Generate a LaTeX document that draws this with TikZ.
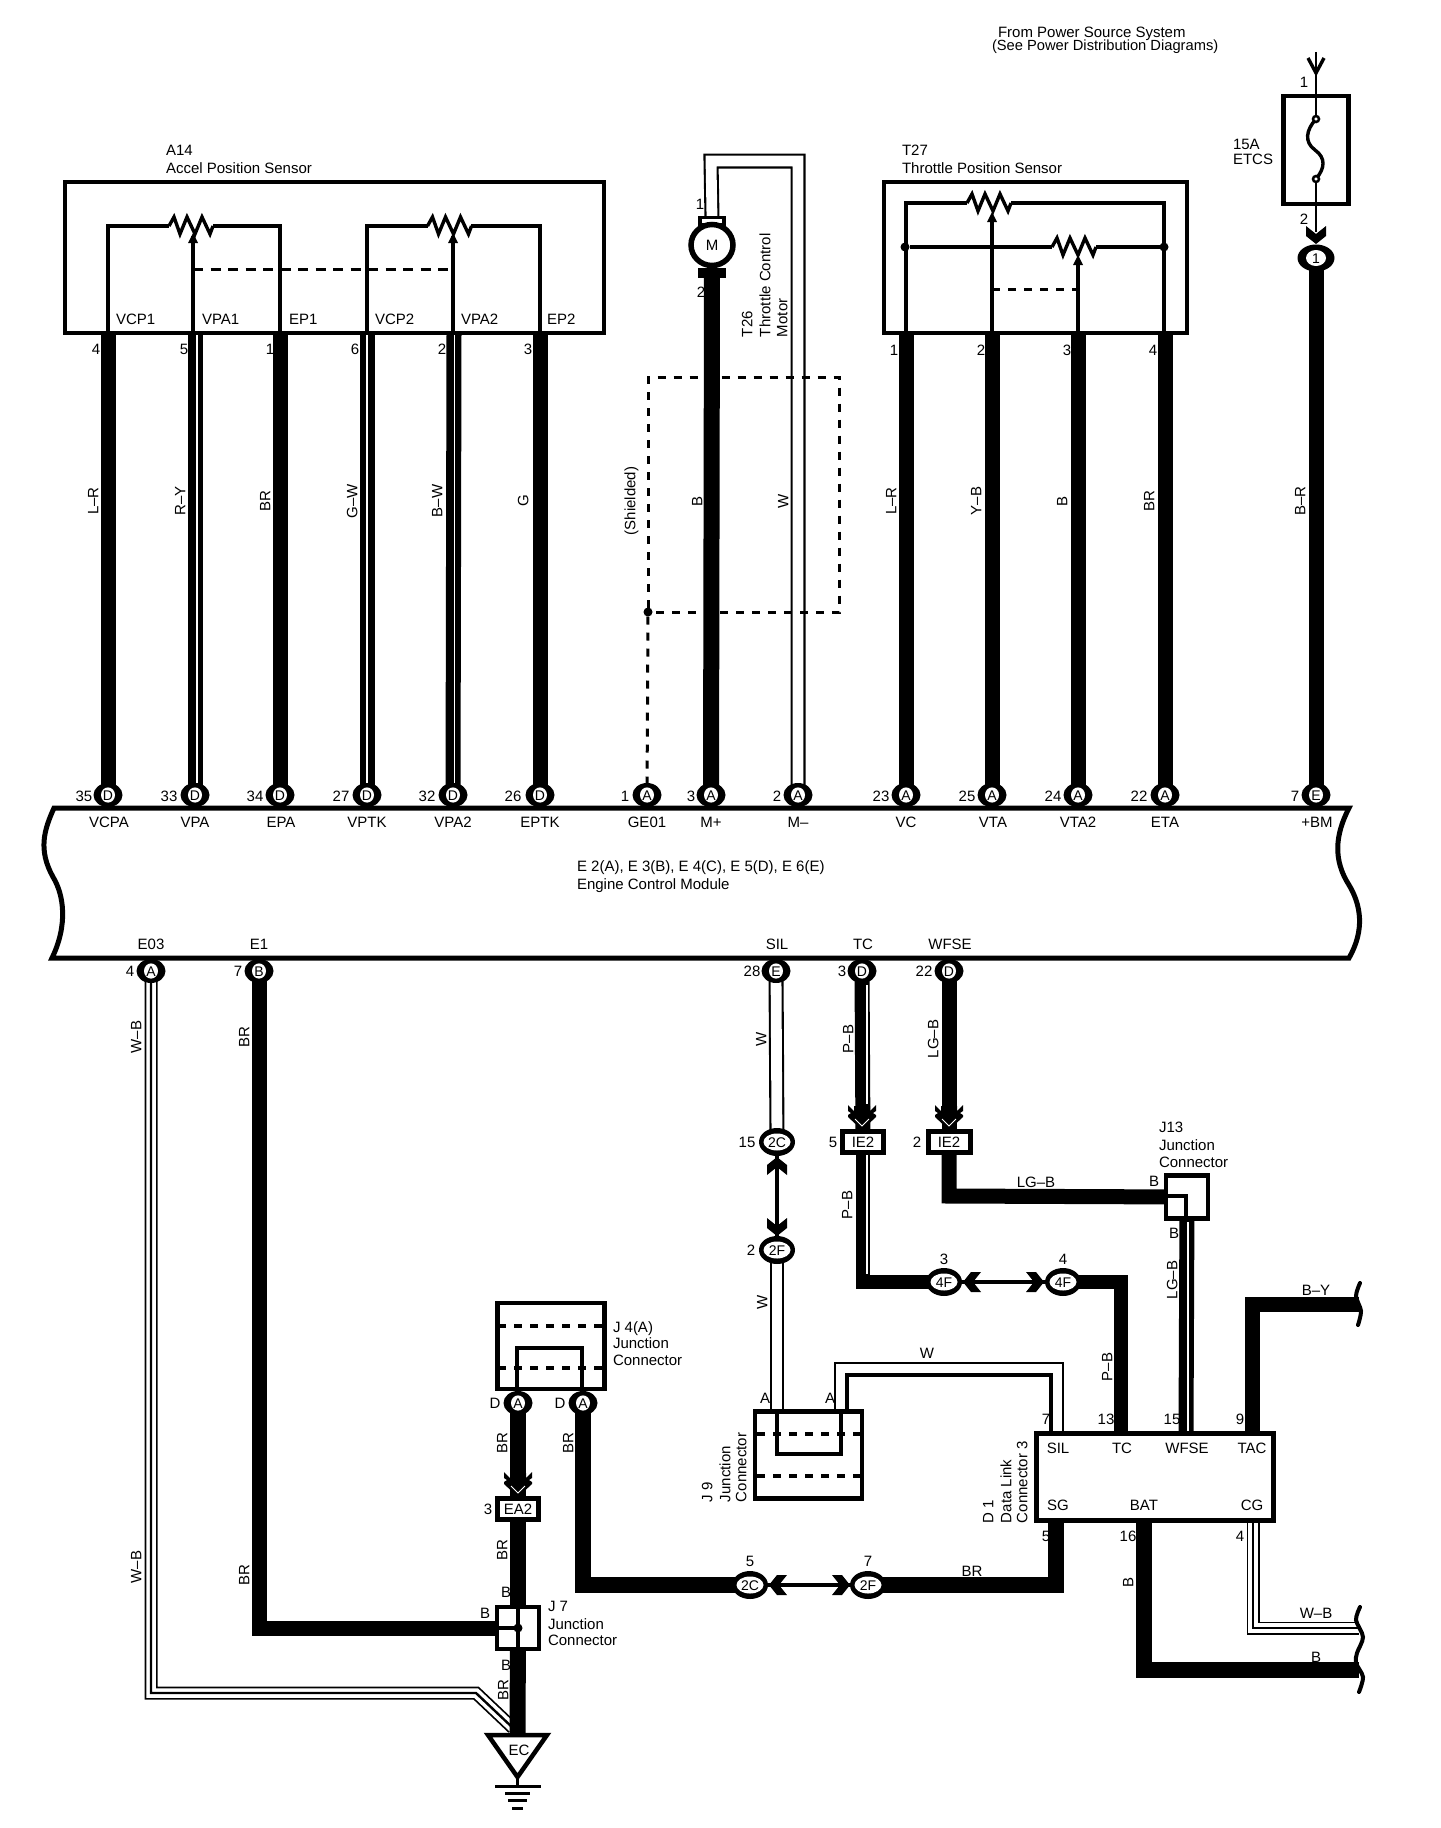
\documentclass[tikz,border=0pt]{standalone}
\usepackage{fontspec}
\setmainfont{Liberation Sans}
\usetikzlibrary{shapes.geometric}
\pgfdeclarelayer{bg}
\pgfsetlayers{bg,main}
\newcounter{lc}
\tikzset{
  x=1pt,y=-1pt,
  lbl/.style={inner sep=0,outer sep=0,font=\fontsize{15}{15}\selectfont,text height=10.5pt,text depth=0pt},
  boxn/.style={draw=black,fill=white,line width=4.5pt,rectangle,inner sep=0,outer sep=0},
  openbox/.style={draw=black,line width=4.5pt,rectangle,inner sep=0,outer sep=0},
  oval/.style={fill=black,ellipse,inner sep=0,outer sep=-4pt,minimum width=29pt,minimum height=24pt,font=\fontsize{14}{14}\selectfont,text height=10pt,text depth=0pt,
    path picture={\fill[white] (path picture bounding box.center) ellipse (7pt and 7.6pt);}},
  ovalb/.style={oval,minimum width=36pt,minimum height=28pt,
    path picture={\fill[white] (path picture bounding box.center) ellipse (13.5pt and 8.5pt);}},
  ctr/.style={draw=black,fill=white,line width=5pt,rectangle,inner sep=0,outer sep=0,minimum height=21pt,font=\fontsize{15}{15}\selectfont,text height=10.5pt,text depth=0pt},
  ln/.style={draw=black,line width=3.4pt},
  hair/.style={draw=black,line width=2.4pt},
  wthick/.style={draw=black,line width=15pt},
  wstripe/.style={draw=white,line width=1.8pt},
  wwo/.style={draw=black,line width=15pt},
  wwi/.style={draw=white,line width=10.8pt},
  wbo/.style={draw=black,line width=13pt},
  wbi/.style={draw=white,line width=9.5pt},
  wbc/.style={draw=black,line width=2.4pt},
  dsh/.style={draw=black,line width=3pt,dash pattern=on 8pt off 8pt},
  dshb/.style={draw=black,line width=4pt,dash pattern=on 8pt off 8pt},
  dsha/.style={draw=black,line width=3pt,dash pattern=on 10pt off 7.5pt},
  dotn/.style={circle,fill=black,draw=none,inner sep=0,outer sep=0,minimum size=9pt},
  squig/.style={draw=black,line width=4pt,line cap=round},
}
\newcommand\tlab[4][]{\stepcounter{lc}\node[lbl,#1] (lab\thelc) at (#2,#3) {#4};}
\newcommand\tlabw[3]{\tlab[anchor=west]{#1}{#2}{#3}}
\newcommand\rlab[3]{\tlab[rotate=90]{#1}{#2}{#3}}
\newcommand\rlabs[3]{\tlab[rotate=90,anchor=west]{#1}{#2}{#3}}
\newcommand\chev[3]{\begin{scope}[shift={(#1,#2)},rotate=#3]
  \fill[black] (0,0)--(-10,-8)--(-10,-18)--(0,-10)--(10,-18)--(10,-8)--cycle;
\end{scope}}
\newcommand\chevd[2]{\begin{scope}[shift={(#1,#2)}]
  \fill[black] (0,0)--(-14,-13)--(-14,-15)--(-11,-17)--(-14,-19)--(-14,-25)--(-8,-19)--(-8,-24)--(8,-24)--(8,-19)--(14,-25)--(14,-19)--(11,-17)--(14,-15)--(14,-13)--cycle;
  \draw[white,line width=1pt] (-7,-11)--(0,-4)--(7,-11);
\end{scope}}
\newcommand\resist[2]{\draw[ln,line join=miter] (#1-22,#2)--(#1-17,#2-9)--(#1-11,#2+8)--(#1-4,#2-9)--(#1+4,#2+8)--(#1+11,#2-9)--(#1+19,#2+8)--(#1+22,#2);}
\newcommand\wiper[2]{\fill[black] (#1,#2)--(#1-5,#2+10)--(#1+5,#2+10)--cycle;}
\begin{document}
\begin{tikzpicture}
\useasboundingbox (0,0) rectangle (1440,1828);
\begin{pgfonlayer}{bg}
\fill[white] (0,0) rectangle (1440,1828);
\end{pgfonlayer}

%% ECU body
\draw[draw=black,line width=5pt,line join=miter] (54,808)--(1349,808)
  .. controls (1335,835) and (1333,860) .. (1349,885)
  .. controls (1361,905) and (1365,930) .. (1349,958)
  --(52,958)
  .. controls (68,925) and (64,895) .. (53,877)
  .. controls (38,850) and (44,830) .. (54,808)--cycle;

%% Sensor boxes
\node[openbox,minimum width=539pt,minimum height=151pt] (a14) at (334.5,257.5) {};
\node[openbox,minimum width=303pt,minimum height=151pt] (t27) at (1035.5,257.5) {};
\node[openbox,minimum width=65pt,minimum height=108pt] (fuse) at (1316,150) {};

%% pin coordinates
\foreach \n/\x in {p4/108,p5/195,p1/280,p6/367,p2/454,p3/540,q1/906,q2/992,q3/1078,q4/1165}
  \coordinate (\n) at (\x,333);

%% ECU terminals
\foreach \n/\x/\l in {tVCPA/108/D,tVPA/195/D,tEPA/280/D,tVPTK/367/D,tVPA2/453/D,tEPTK/540/D,tGE/647/A,tMp/711/A,tMm/798/A,tVC/906/A,tVTA/992/A,tVTB/1078/A,tETA/1165/A,tBM/1316/E}
  \node[oval] (\n) at (\x,795) {\l};
\foreach \n/\x/\l in {tE03/151/A,tE1/259/B,tSIL/776/E,tTC/862/D,tWF/949/D}
  \node[oval] (\n) at (\x,971) {\l};

%% Fuse interior
\coordinate (ftop) at (1316,52);
\coordinate (ffa) at (1316,119);
\coordinate (ffb) at (1316,179);
\coordinate (fchev) at (1316,232);
\draw[hair] (ftop)--(ffa);
\draw[hair] (ffb)--(fchev);
\draw[ln] (ffa) .. controls (1306,130) and (1304,142) .. (1315,150) .. controls (1326,158) and (1325,168) .. (ffb);
\draw[draw=black,fill=white,line width=2.5pt] (ffa) circle (3pt);
\draw[draw=black,fill=white,line width=2.5pt] (ffb) circle (3pt);
\draw[ln] (1308,58)--(1316,73)--(1324,58);
\node[ovalb,minimum width=37pt,minimum height=27pt,path picture={\fill[white] (path picture bounding box.center) ellipse (10pt and 8pt);}] (o1) at (1316,258) {1};
\chev{1316}{244}{0}

%% A14 interior
\coordinate (r1l) at (169,226); \coordinate (r1r) at (213,226);
\coordinate (r2l) at (428,226); \coordinate (r2r) at (471,226);
\resist{191}{226}
\resist{449.5}{226}
\draw[ln] (p4) |- (r1l);
\draw[ln] (p1) |- (r1r);
\draw[ln] (p6) |- (r2l);
\draw[ln] (540,333) |- (r2r);
\draw[ln] (193,333)--(193,236);
\draw[ln] (453,333)--(453,236);
\wiper{193}{233}
\wiper{453}{233}
\draw[dsha] (193,269)--(453,269);

%% T27 interior
\coordinate (s1l) at (967,203); \coordinate (s1r) at (1011,203);
\coordinate (s2l) at (1052,247); \coordinate (s2r) at (1096,247);
\resist{989}{203}
\resist{1074}{247}
\draw[ln] (q1) |- (s1l);
\draw[ln] (1164,333) |- (s1r);
\node[dotn] (d1a) at (905,247) {};
\node[dotn] (d1b) at (1164,247) {};
\draw[ln] (d1a)--(s2l);
\draw[ln] (s2r)--(d1b);
\draw[ln] (q2)--(992,220);
\draw[ln] (q3)--(1078,262);
\wiper{992}{212}
\wiper{1078}{255}
\draw[dsh] (992,289)--(1078,289);

%% Motor
\node[boxn,minimum width=24pt,minimum height=7pt,line width=3.5pt] (mt) at (712,221) {};
\node[boxn,minimum width=24pt,minimum height=5pt,line width=4.5pt] (mb) at (712,273) {};
\node[draw=black,fill=white,line width=5.5pt,ellipse,inner sep=0,outer sep=0,minimum width=42pt,minimum height=41pt,font=\fontsize{15}{15}\selectfont] (mot) at (712,245) {M};

%% Shield
\node[dotn] (sd) at (648,612) {};
\draw[dsh] (sd)--(648,377)--(839,377)--(839,612)--(sd);
\draw[dsh] (sd)--(tGE);

%% Lower connectors
\node[ovalb] (c2Ca) at (777,1142) {2C};
\node[ovalb] (c2Fa) at (777,1250) {2F};
\node[ctr,minimum width=41pt] (ie5) at (863,1142) {IE2};
\node[ctr,minimum width=42pt] (ie2) at (949,1142) {IE2};
\node[ovalb] (c4Fa) at (944,1282) {4F};
\node[ovalb] (c4Fb) at (1063,1282) {4F};
\node[ovalb] (c2Cb) at (750,1585) {2C};
\node[ovalb] (c2Fb) at (868,1585) {2F};
\node[ctr,minimum width=41pt] (ea2) at (518,1509) {EA2};
\node[boxn,minimum width=42pt,minimum height=43pt] (j13) at (1187,1197) {};
\node[boxn,minimum width=107pt,minimum height=86pt] (j4) at (551,1346) {};
\node[boxn,minimum width=107pt,minimum height=87pt] (j9) at (808.5,1455) {};
\node[boxn,minimum width=237pt,minimum height=87pt] (d1) at (1155,1477) {};
\node[boxn,minimum width=42pt,minimum height=42pt] (j7) at (518,1628) {};
\node[oval] (j4a) at (518,1403) {A};
\node[oval] (j4b) at (583,1403) {A};

%% Interiors
\foreach \y in {1326,1368} \draw[dshb] (498,\y)--(604,\y);
\draw[ln] (517,1391)--(517,1348)--(582,1348)--(582,1391);
\foreach \y in {1434,1476} \draw[dshb] (757,\y)--(861,\y);
\draw[ln] (777,1411)--(777,1454)--(841,1454)--(841,1411);
\draw[ln] (j13.west |- 0,1196)--(1186,1196)--(1186,1219);
\node[dotn] (j7d) at (518,1628) {};
\draw[ln] (j7d)--(j7.west);
\draw[ln] (518,1607)--(518,1649);

%% Chevrons
\chev{777}{1157}{180}
\chev{777}{1236}{0}
\chev{963}{1282}{-90}
\chev{1044}{1282}{90}
\chev{769}{1585}{-90}
\chev{850}{1585}{90}
\chevd{862}{1130}
\chevd{949}{1130}
\chevd{518}{1497}

%% Ground
\draw[draw=black,fill=white,line width=4.5pt,line join=miter] (488,1735)--(547,1735)--(517.5,1777)--cycle;
\coordinate (gt) at (517.5,1777);
\coordinate (g0) at (517.5,1786);
\draw[ln] (gt)--(g0);
\draw[draw=black,line width=3pt] (495,1786)--(541,1786);
\draw[draw=black,line width=3pt] (505,1793)--(530,1793);
\draw[draw=black,line width=3pt] (508,1800)--(527,1800);
\draw[draw=black,line width=3pt] (512,1808)--(523,1808);
\coordinate (ect) at (517.5,1735);

%% D1 pin coordinates
\coordinate (dTC) at (1121,1433);
\coordinate (dWF) at (1186,1433);
\coordinate (dTAC) at (1252,1433);
\coordinate (dSG) at (1056,1522);
\coordinate (dBAT) at (1144,1522);
\coordinate (dCG) at (1253,1522);
\coordinate (eBY) at (1359,1304);
\coordinate (eWB) at (1359,1628);
\coordinate (eB) at (1359,1670);

%% WIRES
\begin{pgfonlayer}{bg}
\foreach \a/\b in {p4/tVCPA,p5/tVPA,p1/tEPA,p6/tVPTK,p3/tEPTK,q1/tVC,q2/tVTA,q3/tVTB,q4/tETA,o1/tBM}
  \draw[wthick] (\a)--(\b);
\draw[wthick] (p2)--(tVPA2);
\draw[wstripe] (197,335)--(197,785);
\draw[wstripe] (367,335)--(367,785);
\draw[wstripe] (454.5,335)--(454.5,785);
\draw[draw=black,line width=16pt] (mb)--(tMp);
\draw[wwo] (mt.north) -- (711,161)--(798,161)--(tMm);
\draw[wwi] (mt.north) -- (711,161)--(798,161)--(tMm);
\draw[wthick] (tTC)--(ie5);
\draw[wstripe] (867,985)--(867,1104);
\draw[wthick] (tWF)--(ie2);
\draw[wwo] (tSIL)--(c2Ca);
\draw[wwi] (tSIL)--(c2Ca);
\draw[wwo,line width=14pt] (c2Fa)--(777,1411);
\draw[wwi,line width=10pt] (c2Fa)--(777,1411);
\draw[draw=black,line width=14pt] (ie5)--(863,1282)--(c4Fa);
\draw[wstripe,line width=1.2pt] (867,1155)--(867,1274);
\draw[draw=black,line width=14pt] (c4Fb)--(1121,1282)--(dTC);
\draw[wthick] (ie2)--(949,1196)--(j13);
\draw[wthick] (j13)--(dWF);
\draw[wstripe] (1188,1222)--(1188,1431);
\draw[wthick] (dTAC)--(1252,1304)--(eBY);
\draw[draw=black,line width=2.6pt] (835,1411)--(835,1363)--(1063,1363)--(1063,1433);
\draw[draw=black,line width=3.2pt] (847,1411)--(847,1375)--(1051,1375)--(1051,1433);
\draw[draw=black,line width=16pt] (dBAT)--(1144,1670)--(eB);
\draw[wbo] (dCG)--(1253,1628)--(eWB);
\draw[wbi] (dCG)--(1253,1628)--(eWB);
\draw[wbc] (dCG)--(1253,1628)--(eWB);
\draw[draw=black,line width=16pt] (dSG)--(1056,1585)--(c2Fb);
\draw[draw=black,line width=16pt] (j4b)--(583,1585)--(c2Cb);
\draw[draw=black,line width=16pt] (j4a)--(ea2);
\draw[draw=black,line width=16pt] (ea2)--(j7);
\draw[wbo] (tE03)--(151,1693)--(476,1693)--(513,1728);
\draw[wbi] (tE03)--(151,1693)--(476,1693)--(513,1728);
\draw[wbc] (tE03)--(151,1693)--(476,1693)--(513,1728);
\draw[draw=black,line width=16pt] (j7)--(ect);
\draw[wthick] (tE1)--(259,1628)--(j7);
\draw[draw=black,line width=4pt] (c2Ca)--(c2Fa);
\draw[draw=black,line width=4pt] (c4Fa)--(c4Fb);
\draw[draw=black,line width=4pt] (c2Cb)--(c2Fb);
\end{pgfonlayer}

%% Squiggles
\draw[squig] plot[smooth] coordinates {(1360,1283)(1356,1296)(1361,1311)(1358,1325)};
\draw[squig] plot[smooth] coordinates {(1360,1607)(1356,1620)(1363,1637)(1357,1653)(1356,1663)(1363,1677)(1359,1692)};

%% Texts
\tlabw{166}{150}{A14}
\tlabw{166}{168}{Accel Position Sensor}
\tlabw{116}{319}{VCP1}\tlabw{202}{319}{VPA1}\tlabw{289}{319}{EP1}
\tlabw{375}{319}{VCP2}\tlabw{461}{319}{VPA2}\tlabw{547}{319}{EP2}
\tlab{96}{349}{4}\tlab{184}{349}{5}\tlab{270}{349}{1}\tlab{355}{349}{6}\tlab{442}{349}{2}\tlab{528}{349}{3}
\tlabw{902}{150}{T27}
\tlabw{902}{168}{Throttle Position Sensor}
\tlab{894}{350}{1}\tlab{981}{350}{2}\tlab{1067}{350}{3}\tlab{1153}{350}{4}
\tlabw{998}{32}{From Power Source System}
\tlab[anchor=west,font=\fontsize{14.7}{15}\selectfont]{992}{45}{(See Power Distribution Diagrams)}
\tlabw{1233}{144}{15A}
\tlabw{1233}{159}{ETCS}
\tlab{1304}{82}{1}\tlab{1304}{219}{2}
\tlab{700}{204}{1}\tlab{701}{292}{2}
\rlabs{747}{337}{T26}
\rlabs{765}{337}{Throttle Control}
\rlabs{782}{337}{Motor}
%% wire labels
\rlab{93}{501}{L–R}\rlab{180}{501}{R–Y}\rlab{265}{501}{BR}\rlab{352}{501}{G–W}\rlab{437}{501}{B–W}\rlab{523}{501}{G}
\rlab{630}{501}{(Shielded)}\rlab{697}{501}{B}\rlab{783}{501}{W}
\rlab{891}{501}{L–R}\rlab{976}{501}{Y–B}\rlab{1062}{501}{B}\rlab{1149}{501}{BR}\rlab{1300}{501}{B–R}
%% ECU
\tlab{84}{796}{35}\tlab{169}{796}{33}\tlab{255}{796}{34}\tlab{341}{796}{27}\tlab{427}{796}{32}\tlab{513}{796}{26}
\tlab{625}{796}{1}\tlab{691}{796}{3}\tlab{777}{796}{2}\tlab{881}{796}{23}\tlab{967}{796}{25}\tlab{1053}{796}{24}\tlab{1139}{796}{22}\tlab{1295}{796}{7}
\tlab{109}{822}{VCPA}\tlab{195}{822}{VPA}\tlab{281}{822}{EPA}\tlab{367}{822}{VPTK}\tlab{453}{822}{VPA2}\tlab{540}{822}{EPTK}
\tlab{647}{822}{GE01}\tlab{711}{822}{M+}\tlab{798}{822}{M–}\tlab{906}{822}{VC}\tlab{993}{822}{VTA}\tlab{1078}{822}{VTA2}\tlab{1165}{822}{ETA}\tlab{1317}{822}{+BM}
\tlabw{577}{866}{E 2(A), E 3(B), E 4(C), E 5(D), E 6(E)}
\tlabw{577}{884}{Engine Control Module}
\tlab{151}{944}{E03}\tlab{259}{944}{E1}\tlab{777}{944}{SIL}\tlab{863}{944}{TC}\tlab{950}{944}{WFSE}
\tlab{130}{971}{4}\tlab{238}{971}{7}\tlab{752}{971}{28}\tlab{842}{971}{3}\tlab{924}{971}{22}
\rlab{136}{1037}{W–B}\rlab{244}{1037}{BR}\rlab{761}{1039}{W}\rlab{848}{1039}{P–B}\rlab{933}{1039}{LG–B}
\tlab{747}{1142}{15}\tlab{751}{1250}{2}\tlab{833}{1142}{5}\tlab{917}{1142}{2}
\tlab{1036}{1182}{LG–B}\tlab{1154}{1181}{B}\tlab{1174}{1233}{B}
\tlabw{1159}{1127}{J13}\tlabw{1159}{1145}{Junction}\tlabw{1159}{1162}{Connector}
\rlab{847}{1205}{P–B}\rlab{1172}{1280}{LG–B}\rlab{762}{1302}{W}\rlab{1107}{1367}{P–B}
\tlab{944}{1259}{3}\tlab{1063}{1259}{4}
\tlab{1316}{1290}{B–Y}
\tlab{927}{1353}{W}
\tlab{765}{1398}{A}\tlab{830}{1398}{A}
\rlabs{707}{1502}{J 9}\rlabs{725}{1502}{Junction}\rlabs{741}{1502}{Connector}
\tlab{1046}{1419}{7}\tlab{1106}{1419}{13}\tlab{1172}{1419}{15}\tlab{1240}{1419}{9}
\tlab{1058}{1448}{SIL}\tlab{1122}{1448}{TC}\tlab{1187}{1448}{WFSE}\tlab{1252}{1448}{TAC}
\tlab{1058}{1505}{SG}\tlab{1144}{1505}{BAT}\tlab{1252}{1505}{CG}
\tlab{1046}{1536}{5}\tlab{1128}{1536}{16}\tlab{1240}{1536}{4}
\rlabs{988}{1523}{D 1}\rlabs{1006}{1523}{Data Link}\rlabs{1022}{1523}{Connector 3}
\tlab{750}{1561}{5}\tlab{868}{1561}{7}\tlab{972}{1571}{BR}
\rlab{1128}{1582}{B}
\tlab{1316}{1613}{W–B}\tlab{1316}{1657}{B}
\tlabw{613}{1327}{J 4(A)}\tlabw{613}{1343}{Junction}\tlabw{613}{1360}{Connector}
\tlab{495}{1403}{D}\tlab{560}{1403}{D}
\rlab{502}{1443}{BR}\rlab{568}{1443}{BR}\rlab{502}{1550}{BR}
\tlab{488}{1509}{3}
\rlab{136}{1567}{W–B}\rlab{244}{1575}{BR}
\tlab{506}{1592}{B}\tlab{485}{1613}{B}\tlab{506}{1665}{B}\rlab{503}{1690}{BR}
\tlabw{548}{1606}{J 7}\tlabw{548}{1624}{Junction}\tlabw{548}{1640}{Connector}
\tlab{519}{1750}{EC}
\end{tikzpicture}
\end{document}
